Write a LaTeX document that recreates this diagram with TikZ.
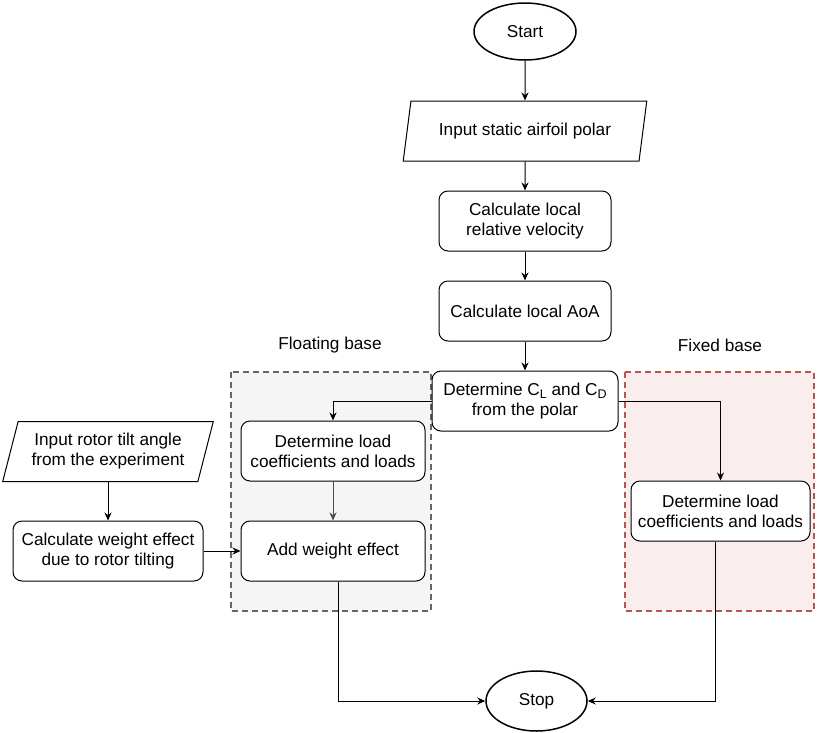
\documentclass[tikz,border=0pt]{standalone}
\usepackage{fontspec}
\setmainfont{Liberation Sans}
\usetikzlibrary{shapes.geometric,arrows.meta,positioning,calc}
\definecolor{floatfill}{HTML}{F5F5F5}
\definecolor{floatline}{HTML}{666666}
\definecolor{fixfill}{HTML}{F9EEED}
\definecolor{fixline}{HTML}{B85450}
\newcommand{\subtxt}[1]{\raisebox{-0.3ex}{\fontsize{12.5}{12.5}\selectfont #1}}

\begin{document}
\begin{tikzpicture}[x=1pt,y=-1pt,
  font=\fontsize{17.2}{20}\selectfont,
  proc/.style={rectangle, rounded corners=9pt, draw, fill=white, line width=1pt, minimum height=60pt, inner sep=0pt, align=center},
  io/.style={trapezium, trapezium left angle=70, trapezium right angle=110, trapezium stretches=true, draw, fill=white, line width=1pt, minimum height=60pt, inner sep=0pt, align=center},
  term/.style={ellipse, draw, fill=white, line width=1.5pt, inner sep=0pt},
  group/.style={line width=2pt, dash pattern=on 6pt off 4pt},
  arr/.style={-{Stealth[length=8pt,width=7pt]}, line width=1pt}]
\useasboundingbox (0,0) rectangle (817,732);

% main column
\node[term, minimum width=102pt, minimum height=57pt] (start) at (525,31.5) {Start};
\node[io, minimum width=244pt] (polar) at (525,131) {Input static airfoil polar};
\node[proc, minimum width=172pt] (vel) at (525,221) {Calculate local\\relative velocity};
\node[proc, minimum width=172pt] (aoa) at (525,311) {Calculate local AoA};

% the two cases
\draw[group, floatline, fill=floatfill] (231,372) rectangle (431,611);
\draw[group, fixline, fill=fixfill] (625,372) rectangle (814,611);
\node (floatlbl) at (330,345) {Floating base};
\node (fixlbl) at (720,345) {Fixed base};

\node[proc, minimum width=186pt] (coef) at (525,401) {Determine C\subtxt{L} and C\subtxt{D}\\from the polar};
\node[proc, minimum width=184pt] (floatload) at (333,451) {Determine load\\coefficients and loads};
\node[proc, minimum width=184pt] (addw) at (333,551) {Add weight effect};
\node[proc, minimum width=179pt] (fixload) at (720.5,511) {Determine load\\coefficients and loads};

% rotor tilt
\node[io, minimum width=211pt] (tilt) at (108,451.5) {Input rotor tilt angle\\from the experiment};
\node[proc, minimum width=190pt] (wgt) at (108,551) {Calculate weight effect\\due to rotor tilting};

\node[term, minimum width=101pt, minimum height=60pt] (stop) at (536.5,701) {Stop};

\draw[arr] (start) -- (polar);
\draw[arr] (polar) -- (vel);
\draw[arr] (vel) -- (aoa);
\draw[arr] (aoa) -- (coef);
\draw[arr] (coef.west) -| (floatload.north);
\draw[arr] (coef.east) -| (fixload.north);
\draw[arr, black!70] (floatload) -- (addw);
\draw[arr] (tilt) -- (wgt);
\draw[arr] (wgt) -- (addw);
\draw[arr] ([xshift=5pt]addw.south) |- (stop.west);
\draw[arr] ([xshift=-5pt]fixload.south) |- (stop.east);
\end{tikzpicture}
\end{document}
